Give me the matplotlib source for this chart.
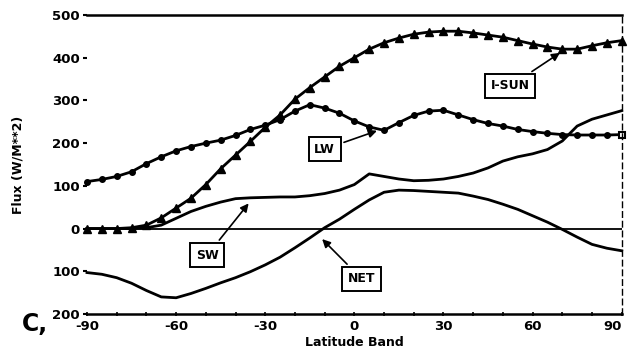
import matplotlib
matplotlib.use("Agg")
import matplotlib.pyplot as plt

# latitude bands (5 deg)
lat = list(range(-90, 95, 5))

isun = [0, 0, 0, 2, 8, 25, 48, 71, 103, 140, 172, 204, 237, 266, 303, 330,
        355, 380, 400, 420, 435, 446, 455, 460, 462, 462, 458, 453, 448, 440,
        432, 425, 420, 420, 428, 435, 440]
lw = [110, 115, 122, 133, 152, 168, 182, 192, 200, 207, 218, 232, 242, 255,
      275, 290, 282, 270, 252, 238, 230, 248, 265, 275, 277, 266, 255, 246,
      240, 232, 227, 223, 220, 219, 219, 219, 220]
sw = [0, 0, 0, 0, 2, 8, 24, 40, 52, 62, 70, 72, 73, 74, 74, 77, 82, 90, 103,
      128, 122, 116, 112, 113, 116, 122, 130, 142, 158, 168, 175, 185, 205,
      240, 256, 266, 276]
net = [-103, -107, -115, -128, -145, -160, -162, -152, -140, -127, -115, -101,
       -85, -67, -45, -22, 2, 22, 45, 67, 85, 90, 89, 87, 85, 83, 76, 68, 57,
       45, 30, 15, -2, -20, -37, -46, -52]

ytick_vals = [500, 400, 300, 200, 100, 0, -100, -200]
ytick_text = ["500", "400", "300", "200", "100", "0", "100", "200"]
xtick_vals = [-90, -60, -30, 0, 30, 60, 90]

fig = plt.figure(figsize=(6.28, 3.62), dpi=100)
ax = fig.add_axes([0.1385, 0.1326, 0.8515, 0.826])

ax.plot(lat, sw, color="k", lw=2, clip_on=False)
ax.plot(lat, net, color="k", lw=2, clip_on=False)
ax.plot(lat, isun, color="k", lw=2, marker="^", ms=5.5, clip_on=False)
ax.plot(lat[:-1], lw[:-1], color="k", lw=2, marker="o", ms=4, clip_on=False)
ax.plot(lat[-2:], lw[-2:], color="k", lw=2, clip_on=False)
ax.plot(lat[-1], lw[-1], color="k", marker="s", ms=5, mfc="white", mew=1.5, clip_on=False)

ax.axhline(0, color="k", lw=1.3)

ax.set_xlim(-90, 90)
ax.set_ylim(-200, 500)
ax.spines["left"].set_visible(False)
ax.spines["top"].set_linewidth(1.8)
ax.spines["bottom"].set_linewidth(1.8)
ax.spines["right"].set_linestyle((0, (4, 3)))
ax.spines["right"].set_linewidth(1)

ax.set_yticks(ytick_vals)
ax.set_yticklabels(ytick_text, fontsize=9.5, fontweight="bold")
ax.set_xticks(xtick_vals)
ax.set_xticklabels([str(v) for v in xtick_vals], fontsize=9.5, fontweight="bold")
ax.get_xticklabels()[-1].set_ha("right")
ax.set_xticks(range(-90, 91, 10), minor=True)
ax.tick_params(axis="y", length=3, width=1.5, pad=2)
ax.tick_params(axis="x", which="both", length=3, width=1.2, direction="inout", pad=3)

ax.set_xlabel("Latitude Band", fontsize=9, fontweight="bold", labelpad=2)
ax.set_ylabel("Flux (W/M**2)", fontsize=9, fontweight="bold", labelpad=20)

box = dict(boxstyle="square,pad=0.45", fc="white", ec="k", lw=1.4)
arr = dict(arrowstyle="-|>", color="k", lw=1.2, mutation_scale=12)
ax.annotate("I-SUN", xy=(70, 415), xytext=(52.5, 334), fontsize=9, fontweight="bold",
            ha="center", va="center", bbox=box, arrowprops=arr)
ax.annotate("LW", xy=(8.5, 231), xytext=(-10, 186), fontsize=9, fontweight="bold",
            ha="center", va="center", bbox=box, arrowprops=arr)
ax.annotate("SW", xy=(-35, 64), xytext=(-49.5, -62), fontsize=9, fontweight="bold",
            ha="center", va="center", bbox=box, arrowprops=arr)
ax.annotate("NET", xy=(-11.5, -20), xytext=(2.5, -118), fontsize=9, fontweight="bold",
            ha="center", va="center", bbox=box, arrowprops=arr)

fig.text(0.035, 0.085, "C,", fontsize=17, fontweight="bold")

fig.savefig("out.png", dpi=100)
